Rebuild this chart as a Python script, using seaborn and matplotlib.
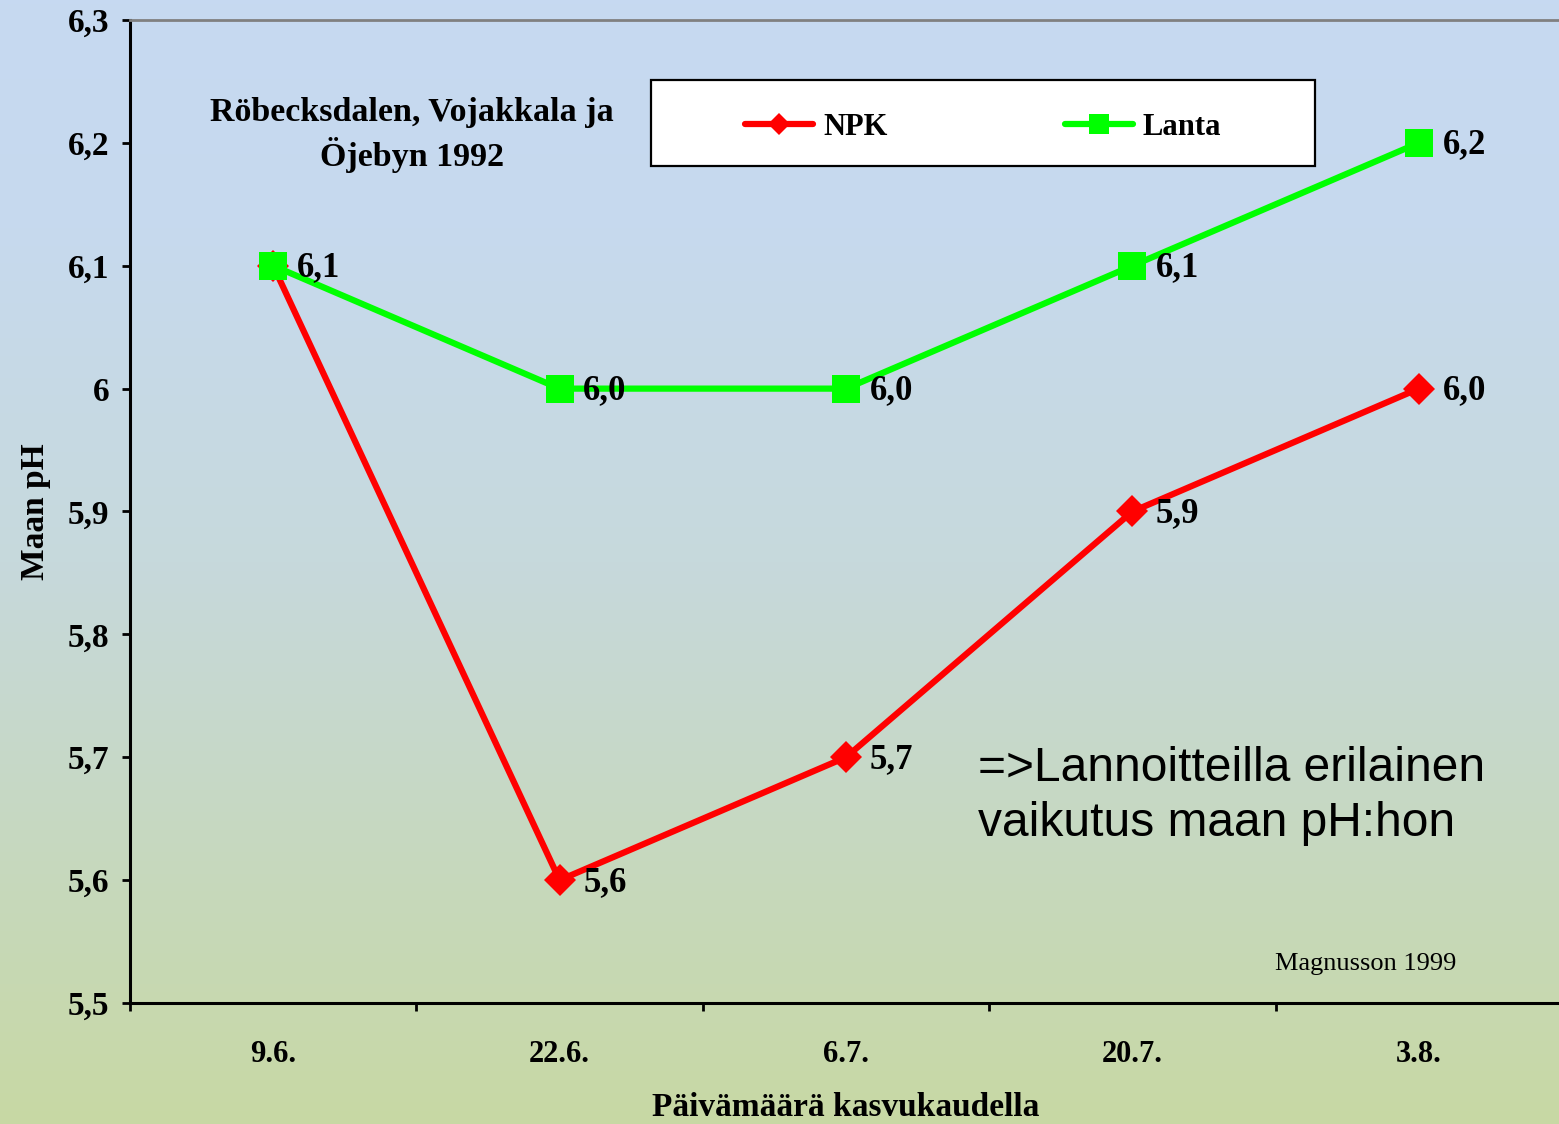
import numpy as np
import pandas as pd
import matplotlib
matplotlib.use("Agg")
import matplotlib.pyplot as plt
from matplotlib.colors import LinearSegmentedColormap
from matplotlib.patches import Rectangle
import seaborn as sns

# --- data -------------------------------------------------------------
dates = ["9.6.", "22.6.", "6.7.", "20.7.", "3.8."]
npk = [6.1, 5.6, 5.7, 5.9, 6.0]
lanta = [6.1, 6.0, 6.0, 6.1, 6.2]
npk_labelled = [False, True, True, True, True]
lanta_labelled = [True, True, True, True, True]
y_ticks = [5.5, 5.6, 5.7, 5.8, 5.9, 6.0, 6.1, 6.2, 6.3]
y_tick_labels = ["5,5", "5,6", "5,7", "5,8", "5,9", "6", "6,1", "6,2", "6,3"]

positions = list(range(len(dates)))

# --- style ------------------------------------------------------------
sns.set_style("ticks")
plt.rcParams["font.family"] = ["Liberation Serif", "DejaVu Serif"]
plt.rcParams["font.weight"] = "bold"
plt.rcParams["axes.labelweight"] = "bold"
for key in ["text.color", "axes.labelcolor", "xtick.color", "ytick.color"]:
    plt.rcParams[key] = "black"

fig = plt.figure(figsize=(15.59, 11.24), dpi=100)

# soft blue-to-green backdrop
bg = fig.add_axes([0, 0, 1, 1], zorder=0)
cmap = LinearSegmentedColormap.from_list(
    "bg", [(0.0, "#C8D8A4"), (0.25, "#C6D8C0"), (0.5, "#C6D9DC"), (0.8, "#C6D9EE"), (1.0, "#C6D9F1")]
)
grad = np.linspace(0, 1, 256).reshape(-1, 1)
bg.imshow(grad, aspect="auto", cmap=cmap, origin="lower", extent=[0, 1, 0, 1])
bg.axis("off")

ax = fig.add_axes([130 / 1559, 121 / 1124, 1432 / 1559, 983 / 1124], zorder=1)
ax.patch.set_alpha(0)

npk_df = pd.DataFrame({"pos": positions, "pH": npk})
lanta_df = pd.DataFrame({"pos": positions, "pH": lanta})

sns.lineplot(data=npk_df, x="pos", y="pH", color="#FF0000", marker="D",
             markersize=16, markeredgewidth=0, linewidth=4.5, label="NPK", ax=ax)
sns.lineplot(data=lanta_df, x="pos", y="pH", color="#00FF00", marker="s",
             markersize=20, markeredgewidth=0, linewidth=4.5, label="Lanta", ax=ax)


def fmt(v):
    return f"{v:.1f}".replace(".", ",")


for xs, ys, flags in [(positions, npk, npk_labelled), (positions, lanta, lanta_labelled)]:
    for x, y, f in zip(xs, ys, flags):
        if f:
            ax.annotate(fmt(y), (x, y), xytext=(17, -1.5), textcoords="offset points",
                        ha="left", va="center", fontsize=25, fontweight="bold", zorder=6)

# axes
ax.set_xlim(-0.5, 4.5)
ax.set_ylim(5.5, 6.3)
ax.set_yticks(y_ticks)
ax.set_yticklabels(y_tick_labels)
ax.set_xticks(positions)
ax.set_xticklabels(dates)
ax.set_xticks(np.arange(-0.5, 5.0, 1.0), minor=True)

ax.tick_params(axis="y", length=6, width=2, pad=9, labelsize=24, color="black")
ax.tick_params(axis="x", which="major", length=0, pad=27, labelsize=22)
ax.tick_params(axis="x", which="minor", length=6, width=2, color="black")

for side in ["left", "bottom"]:
    ax.spines[side].set_color("black")
    ax.spines[side].set_linewidth(2.2)
ax.spines["top"].set_color("#808080")
ax.spines["top"].set_linewidth(2)
ax.spines["right"].set_visible(False)

ax.set_ylabel("Maan pH", fontsize=24, labelpad=12)
ax.set_xlabel("Päivämäärä kasvukaudella", fontsize=24, labelpad=16)

# legend in a white framed box
ax.add_patch(Rectangle((0.3638, 0.8515), 0.4637, 0.0875, transform=ax.transAxes,
                       facecolor="white", edgecolor="black", linewidth=1.6, zorder=4))
handles, labels = ax.get_legend_handles_labels()
ax.legend(handles, labels, loc="center", bbox_to_anchor=(0.5957, 0.891), ncol=2,
          frameon=False, handlelength=2.23, handletextpad=0.33,
          columnspacing=5.8, markerscale=0.7, prop={"weight": "bold", "size": 22})

ax.text(0.197, 0.883, "Röbecksdalen, Vojakkala ja\nÖjebyn 1992", transform=ax.transAxes,
        ha="center", va="center", fontsize=24.5, fontweight="bold", linespacing=1.3)

ax.text(0.592, 0.2105, "=>Lannoitteilla erilainen\nvaikutus maan pH:hon", transform=ax.transAxes,
        ha="left", va="center", fontsize=34.5, fontweight="normal",
        family=["Liberation Sans", "DejaVu Sans"], linespacing=1.3)

ax.text(0.926, 0.0397, "Magnusson 1999", transform=ax.transAxes,
        ha="right", va="center", fontsize=19, fontweight="normal")

fig.savefig("out.png", dpi=100)
